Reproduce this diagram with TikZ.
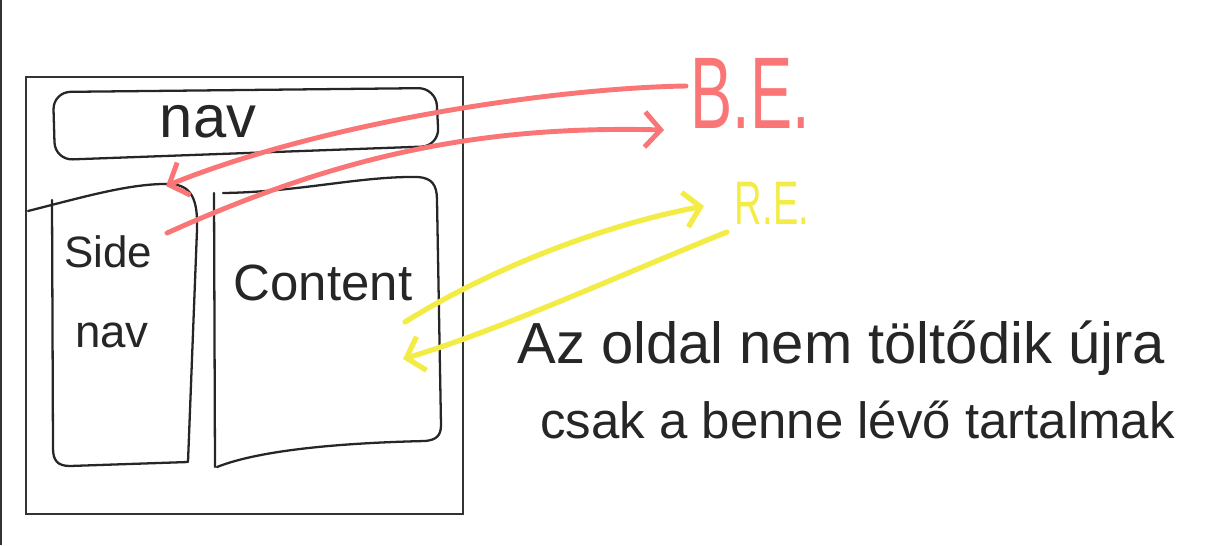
\documentclass[tikz,border=0pt]{standalone}
\usepackage{fontspec}
\setmainfont{Liberation Sans}
\usepackage{graphicx}
\usetikzlibrary{arrows.meta}

\definecolor{markerpink}{RGB}{250,118,118}
\definecolor{markeryellow}{RGB}{244,236,70}

\tikzset{
  blackpen/.style={draw=black!85, line width=1.3pt, line cap=round, line join=round},
  pinkpen/.style={draw=markerpink, line width=2.8pt, line cap=round, line join=round},
  yellowpen/.style={draw=markeryellow, line width=3pt, line cap=round, line join=round},
  hand/.style={inner sep=0pt, text=black!85},
  barb/.style={-{Straight Barb[length=9pt,width=20pt]}}
}

\begin{document}
\begin{tikzpicture}[x=0.02cm, y=-0.02cm]
\useasboundingbox (0,0) rectangle (1215,545);
\fill[black!80] (0,0) rectangle (2,545);

% page frame
\draw[black!80, line width=0.9pt] (26,77) rectangle (463,514);

% nav bar
\draw[blackpen, rounded corners=10pt] (53,92) -- (436,88) -- (439,146) -- (55,160) -- cycle;
\node[hand, font=\fontsize{34}{40}\selectfont] (navlabel) at (208,122) {nav};

% side nav
\draw[blackpen] (28,211) .. controls (80,198) and (130,183) .. (170,184) .. controls (192,185) and (198,200) .. (197,230) -- (188,462) -- (70,466) .. controls (57,466) and (53,460) .. (53,448) -- (52,200);
\node[hand, font=\fontsize{25}{30}\selectfont] (sidelabel) at (108,252) {Side};
\node[hand, font=\fontsize{26}{30}\selectfont] (sidenavlabel) at (112,335) {nav};

% content
\draw[blackpen] (215,467) -- (214,193);
\draw[blackpen] (223,193) .. controls (300,192) and (360,176) .. (418,177) .. controls (432,178) and (437,185) .. (437,200) -- (441,425) .. controls (441,436) and (436,440) .. (425,441) .. controls (340,443) and (260,450) .. (217,467);
\node[hand, font=\fontsize{29}{34}\selectfont] (contentlabel) at (323,283) {Content};

% servers
\node[inner sep=0pt, text=markerpink, font=\fontsize{58}{60}\selectfont] (be) at (750,93) {\scalebox{0.62}[1]{B.E.}};
\node[inner sep=0pt, text=markeryellow, font=\fontsize{35}{40}\selectfont] (re) at (772,203) {\scalebox{0.62}[1]{R.E.}};

\coordinate (beout) at (686,86);
\coordinate (bein) at (664,130);
\coordinate (sidetop) at (166,186);
\coordinate (sidein) at (167,233);
\coordinate (reout) at (727,232);
\coordinate (rein) at (704,206);
\coordinate (contentout) at (405,322);
\coordinate (contentin) at (403,359);

\draw[pinkpen, barb] (beout) .. controls (560,88) and (330,120) .. (sidetop);
\draw[pinkpen, barb] (sidein) .. controls (330,160) and (470,125) .. (bein);
\draw[yellowpen, barb] (contentout) .. controls (480,275) and (590,228) .. (rein);
\draw[yellowpen, barb] (reout) .. controls (620,275) and (500,330) .. (contentin);

% note
\node[hand, anchor=base west, font=\fontsize{33}{40}\selectfont] (note1) at (517,363) {Az oldal nem töltődik újra};
\node[hand, anchor=base west, font=\fontsize{29}{40}\selectfont] (note2) at (540,438) {csak a benne lévő tartalmak};
\end{tikzpicture}
\end{document}
